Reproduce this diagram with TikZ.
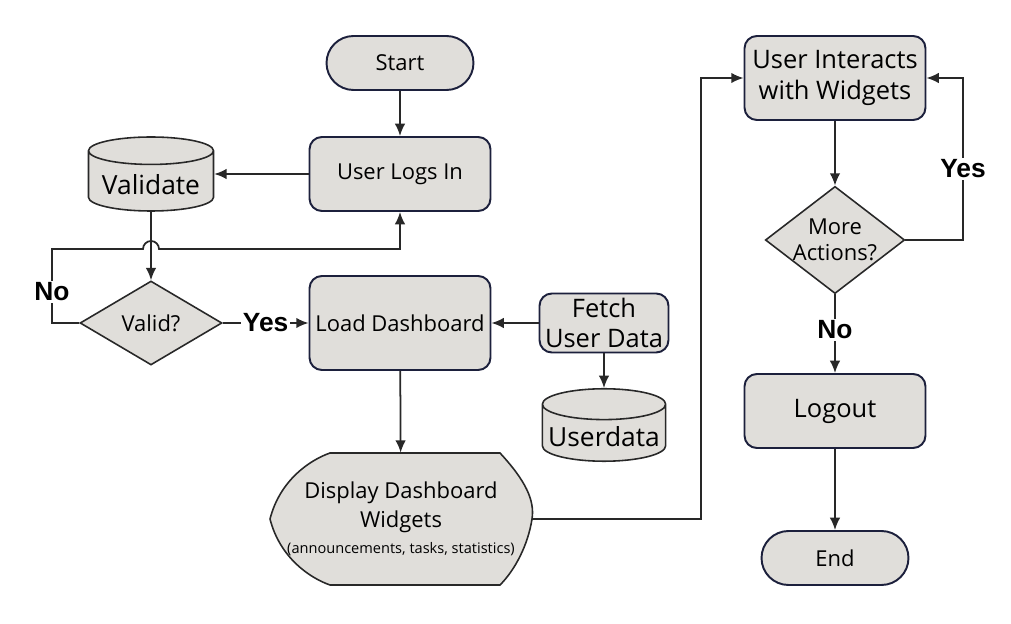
\documentclass[tikz,border=0pt]{standalone}
\usepackage{fontspec}
\setmainfont{Open Sans}
\newfontfamily\lbl{Liberation Sans}
\usetikzlibrary{shapes.geometric,arrows.meta,positioning}
\definecolor{boxfill}{RGB}{224,222,218}
\definecolor{navy}{RGB}{28,32,60}
\definecolor{edge}{RGB}{40,40,40}
\tikzset{
  box/.style={rectangle,rounded corners=7pt,draw=navy,line width=1.1pt,fill=boxfill,minimum width=3.62cm,minimum height=1.48cm,align=center,font=\fontsize{12.5}{16}\selectfont},
  term/.style={rectangle,rounded corners=0.54cm,draw=navy,line width=1.1pt,fill=boxfill,minimum width=2.94cm,minimum height=1.08cm,font=\fontsize{12.5}{16}\selectfont},
  db/.style={cylinder,shape border rotate=90,aspect=0.25,draw=edge,line width=0.9pt,fill=boxfill,minimum width=2.5cm,anchor=shape center,font=\fontsize{15}{18}\selectfont},
  dec/.style={diamond,draw=edge,line width=0.9pt,fill=boxfill,aspect=1.4,inner sep=0pt,align=center,font=\fontsize{12.5}{15}\selectfont},
  conn/.style={draw=edge,line width=1pt,-{Latex[length=7pt,width=6pt]}},
  yn/.style={font=\lbl\bfseries\fontsize{15}{18}\selectfont,fill=white,inner sep=1pt}
}
\begin{document}
\begin{tikzpicture}[x=0.02cm,y=-0.02cm]
\useasboundingbox (0,0) rectangle (1011,624);

\node[term] (start) at (400,63) {Start};
\node[box] (login) at (400,174) {User Logs In};
\node[db,minimum height=1.48cm] (validate) at (151,174) {Validate};
\node[dec,minimum width=2.84cm,minimum height=1.68cm] (valid) at (151,323) {Valid?};
\node[box,minimum height=1.88cm] (load) at (400,323) {Load Dashboard};
\node[box,minimum width=2.58cm,minimum height=1.18cm,font=\fontsize{14.5}{17}\selectfont,inner sep=2pt] (fetch) at (604,323) {Fetch\\User Data};
\node[db,minimum width=2.38cm,minimum height=1.4cm] (udata) at (604,425) {Userdata};

% display symbol
\draw[draw=edge,line width=0.9pt,fill=boxfill] (270,519) .. controls (280,480) and (310,460) .. (330,453)
  -- (500,453) .. controls (525,480) and (535,500) .. (532,519)
  .. controls (528,545) and (515,570) .. (500,585) -- (330,585)
  .. controls (310,578) and (280,558) .. cycle;
\node[minimum width=5.24cm,minimum height=2.64cm,align=center,font=\fontsize{12.5}{16}\selectfont] (display) at (401,519)
  {Display Dashboard\\Widgets\\[-1pt]{\fontsize{8.3}{12}\selectfont(announcements, tasks, statistics)}};

\node[box,minimum height=1.68cm,font=\fontsize{14.5}{18}\selectfont] (interact) at (835,78) {User Interacts\\with Widgets};
\node[dec,minimum width=2.78cm,minimum height=2cm,aspect=1.3] (more) at (835,240) {More\\Actions?};
\node[box,font=\fontsize{14.5}{18}\selectfont] (logout) at (835,411) {Logout};
\node[term] (end) at (835,558) {End};

\coordinate (jmp) at (151,249);

\draw[conn] (start) -- (login);
\draw[conn] (login.west) -- (login.west -| validate.east);
\draw[conn] (validate.bottom) -- (valid.north);
\draw[conn] (valid.west) -| (52,249) -- ([xshift=-0.16cm]jmp)
  arc[start angle=180,end angle=0,radius=0.16cm] -| (login.south);
\node[yn] at (52,292) {No};
\draw[conn] (valid) -- node[yn] {Yes} (load);
\draw[conn] (fetch) -- (load);
\draw[conn] (fetch.south) -- (udata.top);
\draw[conn] (load) -- (display);
\draw[conn] (display.east) -| (701,78) -- (interact.west);
\draw[conn] (interact) -- (more);
\draw[conn] (more.east) -| (963,78) -- (interact.east);
\node[yn] at (963,169) {Yes};
\draw[conn] (more) -- node[yn,pos=0.45] {No} (logout);
\draw[conn] (logout) -- (end);
\end{tikzpicture}
\end{document}
